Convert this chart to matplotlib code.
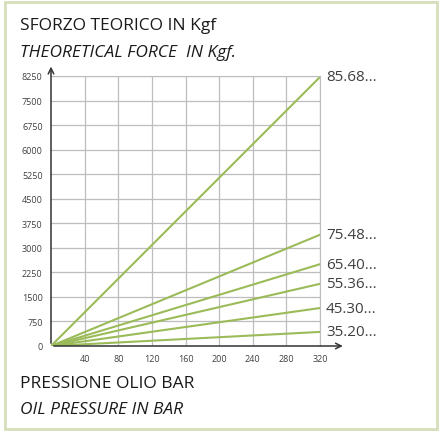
import matplotlib.pyplot as plt
from matplotlib.patches import Rectangle

# data
pressure = [0, 320]
series_names = ["85.68...", "75.48...", "65.40...", "55.36...", "45.30...", "35.20..."]
force_at_320 = [8220, 3400, 2500, 1900, 1160, 430]

x_ticks = [40, 80, 120, 160, 200, 240, 280, 320]
y_ticks = [0, 750, 1500, 2250, 3000, 3750, 4500, 5250, 6000, 6750, 7500, 8250]

line_color = '#9bbb59'
text_color = '#404040'

plt.rcParams['font.family'] = ['Open Sans', 'DejaVu Sans']

fig = plt.figure(figsize=(4.4, 4.35), dpi=100)
fig.patches.append(Rectangle((0.011, 0.012), 0.982, 0.982, transform=fig.transFigure,
                             fill=False, edgecolor='#d6dfbc', linewidth=2))

ax = fig.add_axes([0.1159, 0.2023, 0.6114, 0.6207])
for name, f in zip(series_names, force_at_320):
    ax.plot(pressure, [0, f], color=line_color, linewidth=1.5)
    ax.text(327, f, name, fontsize=11, color=text_color, va='center', ha='left')

ax.set_xlim(0, 320)
ax.set_ylim(0, 8250)
ax.set_xticks(x_ticks)
ax.set_yticks(y_ticks)
ax.tick_params(length=0, labelsize=6.5, labelcolor=text_color, pad=6)
ax.grid(True, color='#bdbdbd', linewidth=0.9)
ax.set_axisbelow(True)
for s in ax.spines.values():
    s.set_visible(False)
ax.spines['right'].set_visible(True)
ax.spines['right'].set_color('#bdbdbd')
ax.spines['top'].set_visible(True)
ax.spines['top'].set_color('#bdbdbd')

# axis arrows
ax.annotate('', xy=(0, 1.045), xytext=(0, 0), xycoords='axes fraction',
            arrowprops=dict(arrowstyle='->', color='#333333', lw=1.1))
ax.annotate('', xy=(1.095, 0), xytext=(0, 0), xycoords='axes fraction',
            arrowprops=dict(arrowstyle='->', color='#333333', lw=1.1))

title_color = '#1a1a1a'
fig.text(0.045, 0.94, 'SFORZO TEORICO IN Kgf', fontsize=12.5, color=title_color, va='center')
fig.text(0.045, 0.878, 'THEORETICAL FORCE  IN Kgf.', fontsize=12.5, style='italic',
         color=title_color, va='center')
fig.text(0.045, 0.118, 'PRESSIONE OLIO BAR', fontsize=12.5, color=title_color, va='center')
fig.text(0.045, 0.057, 'OIL PRESSURE IN BAR', fontsize=12.5, style='italic',
         color=title_color, va='center')

fig.savefig('out.png', dpi=100)
